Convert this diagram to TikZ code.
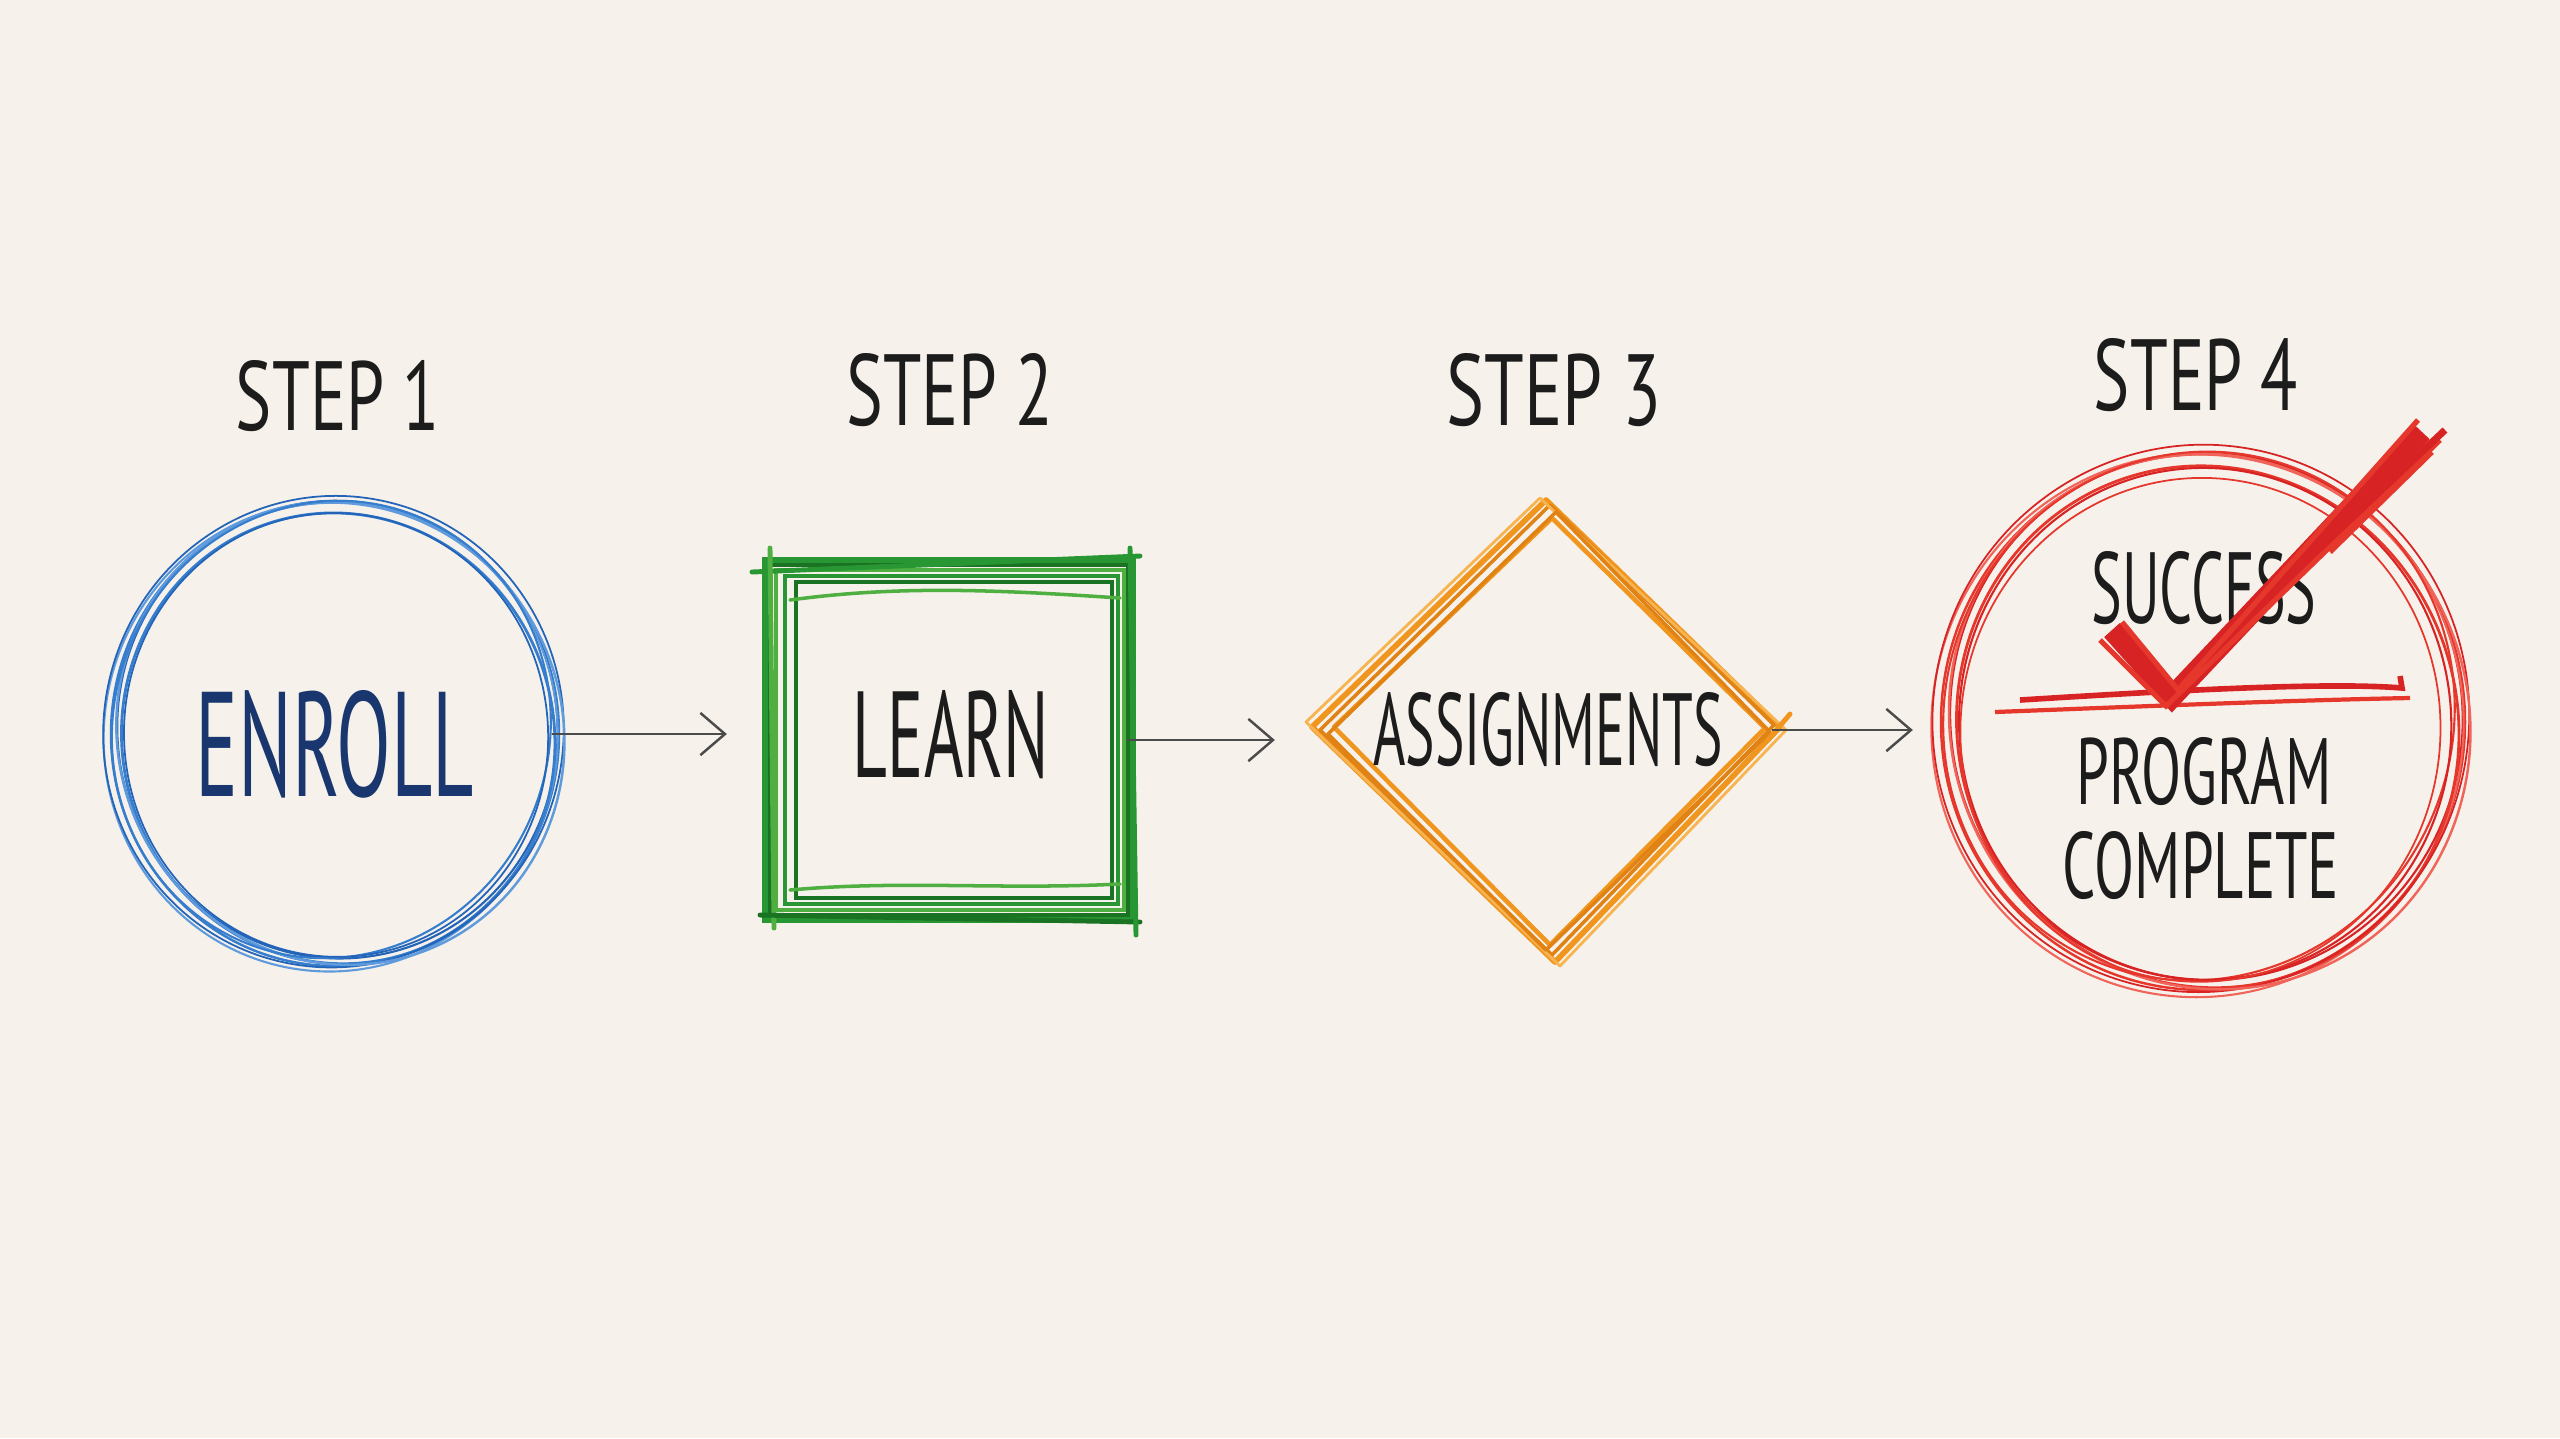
\documentclass[tikz,border=0pt]{standalone}
\usepackage{fontspec}
\usepackage{graphicx}
\setmainfont{PT Sans}
\usetikzlibrary{shapes.geometric,arrows.meta}
\definecolor{paper}{RGB}{246,242,235}
\definecolor{inkblack}{RGB}{28,28,28}
\definecolor{navy}{RGB}{25,55,110}
\definecolor{blueA}{RGB}{55,125,205}
\definecolor{blueB}{RGB}{35,100,185}
\definecolor{blueC}{RGB}{95,155,220}
\definecolor{greenA}{RGB}{40,150,50}
\definecolor{greenB}{RGB}{25,115,35}
\definecolor{greenC}{RGB}{80,175,65}
\definecolor{orangeA}{RGB}{240,150,30}
\definecolor{orangeB}{RGB}{225,130,20}
\definecolor{orangeC}{RGB}{248,180,80}
\definecolor{redA}{RGB}{230,55,45}
\definecolor{redB}{RGB}{215,35,35}
\definecolor{redC}{RGB}{240,100,90}
\definecolor{arrgray}{RGB}{75,75,75}
\newcommand\hw[3]{\resizebox{#1cm}{#2cm}{#3}}
\begin{document}
\begin{tikzpicture}[x=0.01cm,y=-0.01cm,
  txt/.style={inner sep=0pt,text=inkblack,font=\fontsize{28}{30}\selectfont},
  shapenode/.style={inner sep=0pt,outer sep=0pt},
  arr/.style={draw=arrgray,line width=0.7pt,-{Straight Barb[length=7pt,width=12pt,line width=0.7pt]}},
  bstroke/.style={draw=#1,line width=0.6pt},
  gstroke/.style={draw=#1,line width=1.4pt,line cap=round},
  ostroke/.style={draw=#1,line width=1.2pt,line cap=round,line join=round},
  rstroke/.style={draw=#1,line width=0.6pt},
  checkstroke/.style={draw=#1,line cap=butt,line join=miter}
]
\useasboundingbox (0,0) rectangle (2560,1438);
\fill[paper] (0,0) rectangle (2560,1438);

% ---------- shape nodes ----------
\node[shapenode,ellipse,minimum width=4.48cm,minimum height=4.64cm] (n1) at (335,734) {};
\node[shapenode,rectangle,minimum width=3.68cm,minimum height=3.64cm] (n2) at (951,740) {};
\node[shapenode,diamond,minimum width=4.66cm,minimum height=4.59cm] (n3) at (1548,730) {};
\node[shapenode,ellipse,minimum width=5.24cm,minimum height=5.36cm] (n4) at (2203,722) {};

% ---------- step 1: blue circle ----------
\foreach \dx/\dy/\rx/\ry/\rot/\c/\w in {
  0/0/224/232/0/blueA/0.7,
  3/-4/220/229/8/blueB/0.6,
  -4/3/227/235/-6/blueC/0.6,
  2/5/216/226/15/blueA/0.8,
  -2/-2/230/236/-12/blueB/0.5,
  5/2/222/233/25/blueC/0.7,
  -5/-3/218/230/-20/blueA/0.6,
  1/1/212/222/5/blueB/0.5}{
  \draw[bstroke=\c,line width=\w pt,rotate around={\rot:([shift={(\dx,\dy)}]n1.center)}]
    ([shift={(\dx,\dy)}]n1.center) ellipse [x radius=\rx, y radius=\ry];
}

% ---------- step 2: green square ----------
\foreach \xa/\ya/\xb/\yb/\c/\w in {
  765/560/1133/920/greenA/1.6,
  770/565/1128/915/greenB/1.2,
  776/570/1124/910/greenC/1.4,
  785/576/1118/904/greenA/1.2,
  796/582/1112/898/greenB/1.0}{
  \draw[gstroke=\c,line width=\w pt] (\xa,\ya) rectangle (\xb,\yb);
}
\draw[gstroke=greenA] (752,572) -- (1140,556);
\draw[gstroke=greenC] (770,548) -- (774,928);
\draw[gstroke=greenB] (760,915) -- (1140,922);
\draw[gstroke=greenA] (1130,548) -- (1136,935);
\draw[gstroke=greenC,line width=1pt] (790,600) .. controls (900,585) and (1000,590) .. (1120,598);
\draw[gstroke=greenC,line width=1pt] (790,890) .. controls (900,880) and (1000,890) .. (1120,884);

% ---------- step 3: orange diamond ----------
\draw[ostroke=orangeA,line width=1.6pt] (1546,500) -- (1780,727) -- (1555,962) -- (1312,727) -- cycle;
\draw[ostroke=orangeB,line width=1.0pt] (1550,505) -- (1774,725) -- (1552,955) -- (1320,730) -- cycle;
\draw[ostroke=orangeC,line width=0.8pt] (1540,498) -- (1786,730) -- (1560,966) -- (1306,722) -- cycle;
\draw[ostroke=orangeA,line width=1.3pt] (1552,518) -- (1765,728) -- (1550,945) -- (1334,727) -- cycle;
\draw[ostroke=orangeB,line width=1.0pt] (1556,512) -- (1770,732) -- (1546,950) -- (1328,734) -- cycle;
\draw[ostroke=orangeA,line width=1.4pt] (1768,740) -- (1790,714);

% ---------- step 4: red circle ----------
\foreach \dx/\dy/\rx/\ry/\rot/\c/\w in {
  0/0/262/268/0/redA/0.7,
  4/-5/256/264/10/redB/0.6,
  -5/4/266/272/-8/redC/0.6,
  3/6/250/262/18/redA/0.8,
  -3/-3/268/274/-14/redB/0.5,
  6/3/258/270/28/redC/0.7,
  -6/-4/254/266/-22/redA/0.6,
  2/2/246/256/6/redB/0.6,
  -2/8/240/252/-4/redA/0.5}{
  \draw[rstroke=\c,line width=\w pt,rotate around={\rot:([shift={(\dx,\dy)}]n4.center)}]
    ([shift={(\dx,\dy)}]n4.center) ellipse [x radius=\rx, y radius=\ry];
}
\draw[rstroke=redB,line width=1.6pt] (2020,700) .. controls (2180,690) and (2330,682) .. (2402,688) -- (2400,676);
\draw[rstroke=redA,line width=1.2pt] (1995,712) .. controls (2150,706) and (2300,700) .. (2410,698);

% ---------- texts ----------
\node[txt] (s1) at (338,396) {\hw{2.04}{0.70}{STEP 1}};
\node[txt] (s2) at (950,390) {\hw{2.07}{0.72}{STEP 2}};
\node[txt] (s3) at (1554,390) {\hw{2.14}{0.72}{STEP 3}};
\node[txt] (s4) at (2196,375) {\hw{2.04}{0.72}{STEP 4}};
\node[txt,text=navy] (t1) at (n1.center) [yshift=-0.1cm] {\hw{2.78}{1.06}{ENROLL}};
\node[txt] (t2) at (n2.center) [yshift=0.05cm] {\hw{1.96}{0.87}{LEARN}};
\node[txt] (t3) at (n3.center) {\hw{3.49}{0.73}{ASSIGNMENTS}};
\node[txt] (t4a) at (2204,588) {\hw{2.25}{0.72}{SUCCESS}};
\node[txt] (t4b) at (2204,772) {\hw{2.55}{0.67}{PROGRAM}};
\node[txt] (t4c) at (2201,866) {\hw{2.76}{0.67}{COMPLETE}};

% ---------- check mark ----------
\draw[checkstroke=redB,line width=6pt] (2112,630) -- (2172,697) -- (2422,432);
\draw[checkstroke=redA,line width=1.5pt] (2100,640) -- (2166,706) -- (2440,440);
\draw[checkstroke=redA,line width=1.5pt] (2122,622) -- (2178,690) -- (2418,420);
\draw[checkstroke=redB,line width=2pt] (2320,548) -- (2445,430);
\draw[checkstroke=redA,line width=1.5pt] (2330,552) -- (2432,452);

% ---------- connectors ----------
\draw[arr,shorten <=-0.07cm,shorten >=0.4cm] (n1.east) -- (n1.east -| n2.west);
\draw[arr,shorten <=-0.08cm,shorten >=0.4cm] (n2.east) -- (n2.east -| n3.west);
\draw[arr,shorten <=-0.09cm,shorten >=0.28cm] (n3.east) -- (n3.east -| n4.west);
\end{tikzpicture}
\end{document}
